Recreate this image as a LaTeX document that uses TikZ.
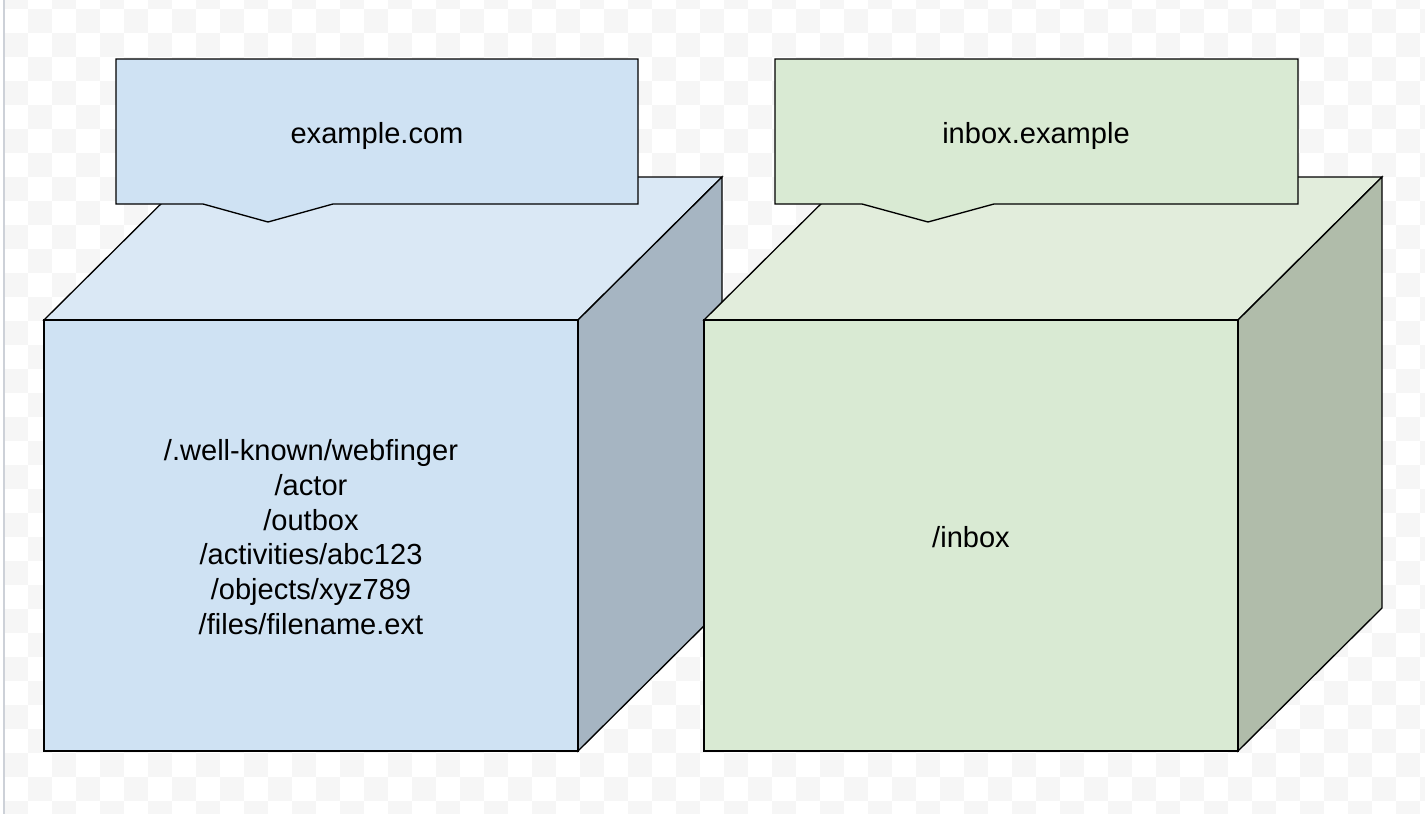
\documentclass[tikz,border=0pt]{standalone}
\usepackage{fontspec}
\setmainfont{Liberation Sans}
\usepackage{tikz}
\usetikzlibrary{positioning}

\definecolor{bluefront}{HTML}{CFE2F3}
\definecolor{bluetop}{HTML}{DAE8F5}
\definecolor{blueside}{HTML}{A6B5C2}
\definecolor{greenfront}{HTML}{D9EAD3}
\definecolor{greentop}{HTML}{E2EDDC}
\definecolor{greenside}{HTML}{B0BCAA}
\definecolor{checker}{HTML}{F6F6F6}
\definecolor{frameline}{HTML}{CDD1D8}

\begin{document}
\begin{tikzpicture}[
  x=0.75pt, y=-0.75pt,
  every node/.style={font=\fontsize{21.8}{26}\selectfont, inner sep=0pt},
  edge/.style={draw=black, line width=1pt, line join=miter},
  label/.style={align=center}
]
\useasboundingbox (0,0) rectangle (1425,814);

% Background: transparency checkerboard
\fill[white] (0,0) rectangle (1425,814);
\begin{scope}
  \clip (4,0) rectangle (1425,814);
  \foreach \i in {0,...,59}
    \foreach \j in {-1,...,33}{
      \pgfmathparse{int(mod(\i+\j+2,2))}
      \ifnum\pgfmathresult=1 \fill[checker] (4+24*\i,9+24*\j) rectangle +(24,24); \fi
    }
\end{scope}
\draw[frameline, line width=1.5pt] (4,0) -- (4,814);

% Left cube: example.com
\filldraw[edge, fill=bluetop] (44,320) -- (188,177) -- (722,177) -- (578,320) -- cycle;
\filldraw[edge, fill=blueside] (578,320) -- (722,177) -- (722,608) -- (578,751) -- cycle;
\filldraw[edge, fill=bluefront] (44,320) rectangle (578,751);
\filldraw[edge, fill=bluefront] (116,59) -- (638,59) -- (638,204) -- (333,204)
  -- (268,222) -- (203,204) -- (116,204) -- cycle;

% Right cube: inbox.example
\filldraw[edge, fill=greentop] (704,320) -- (848,177) -- (1382,177) -- (1238,320) -- cycle;
\filldraw[edge, fill=greenside] (1238,320) -- (1382,177) -- (1382,608) -- (1238,751) -- cycle;
\filldraw[edge, fill=greenfront] (704,320) rectangle (1238,751);
\filldraw[edge, fill=greenfront] (775,59) -- (1298,59) -- (1298,204) -- (994,204)
  -- (928,222) -- (862,204) -- (775,204) -- cycle;

% Labels
\node[label] (host) at (377,136) {example.com};
\node[label] (paths) at (311,537) {/.well-known/webfinger\\/actor\\/outbox\\/activities/abc123\\/objects/xyz789\\/files/filename.ext};
\node[label] (inboxhost) at (1036,136) {inbox.example};
\node[label] (inbox) at (971,537) {/inbox};

\end{tikzpicture}
\end{document}
